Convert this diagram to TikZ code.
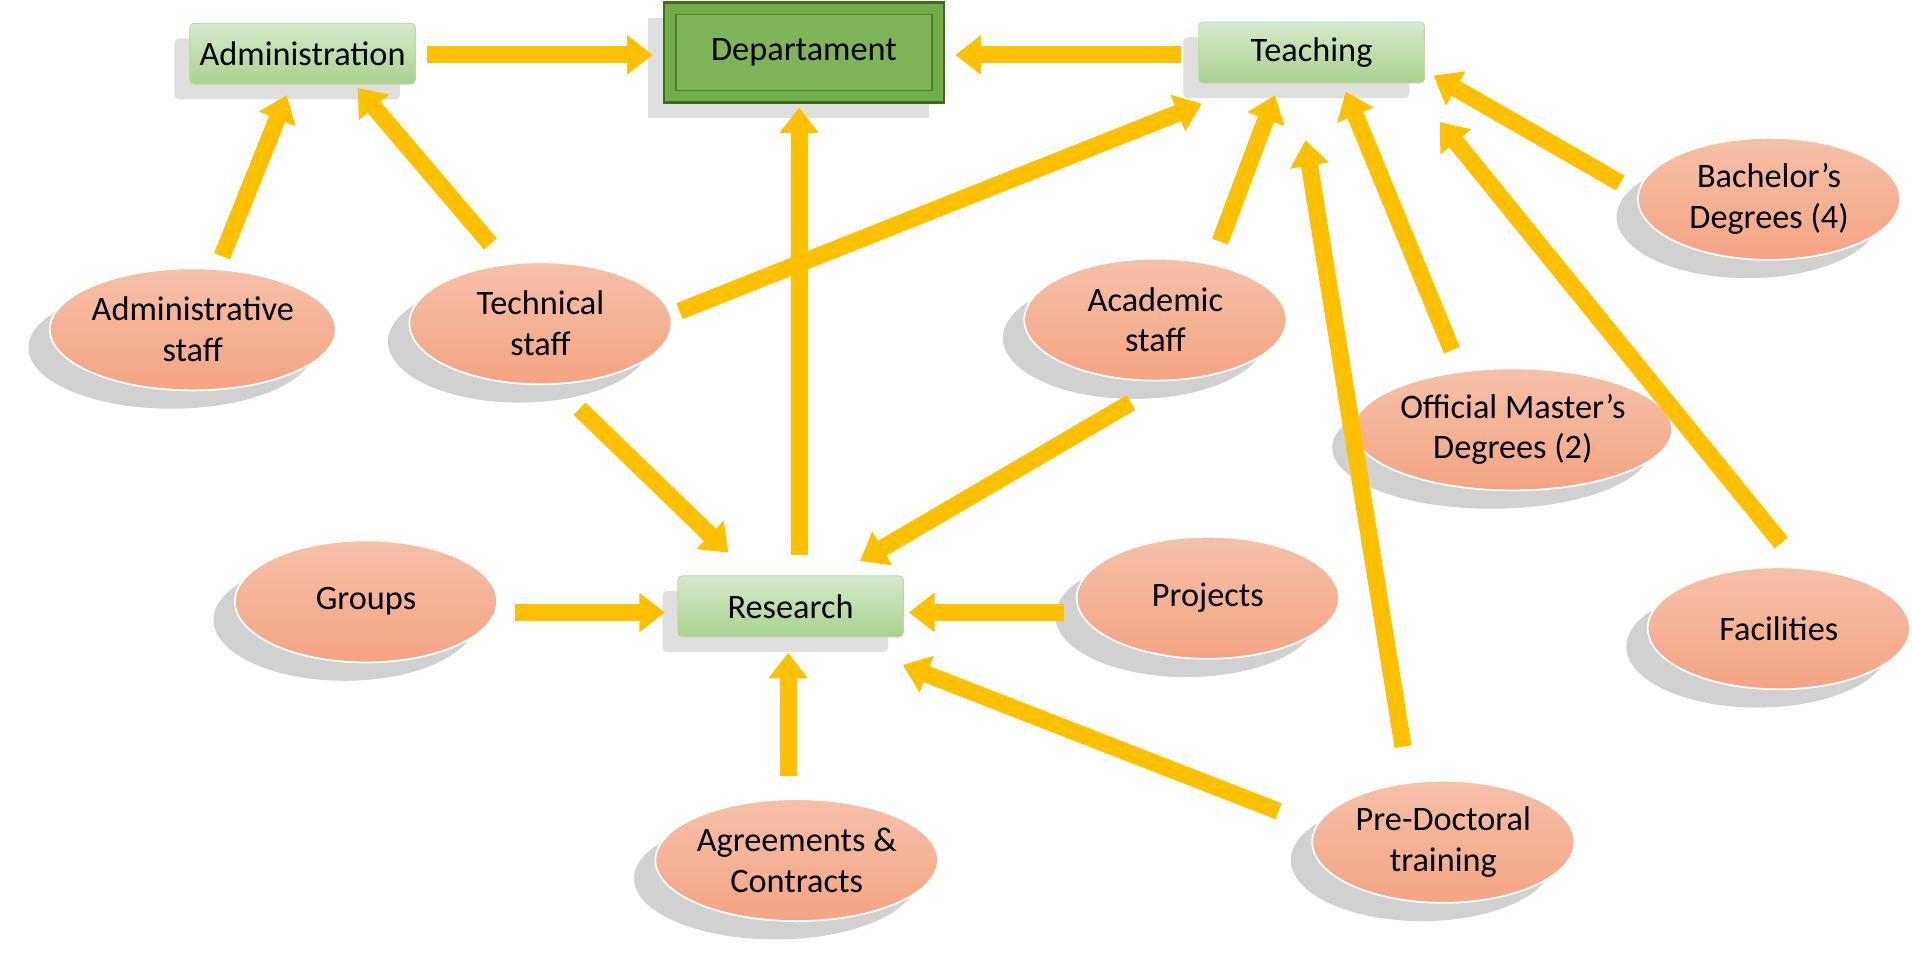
\documentclass[tikz,border=0pt]{standalone}
\usepackage{fontspec}
\setmainfont{Carlito}
\usetikzlibrary{shapes.geometric,arrows.meta,shadows}
\definecolor{arr}{HTML}{FFC000}
\definecolor{elt}{HTML}{F6C0A8}
\definecolor{elb}{HTML}{F4A483}
\definecolor{bxt}{HTML}{D6EACB}
\definecolor{bxb}{HTML}{A9D18E}
\definecolor{dep}{HTML}{70AD47}
\definecolor{depd}{HTML}{3F6B26}
\begin{document}
\begin{tikzpicture}[x=0.02cm,y=-0.02cm,
  font=\fontsize{16}{19}\selectfont,
  ell/.style={ellipse,minimum width=4.3cm,minimum height=2.0cm,top color=elt,bottom color=elb,draw=white,line width=0.8pt,align=center,inner sep=0pt,
    drop shadow={shadow xshift=-0.35cm,shadow yshift=-0.3cm,opacity=0.3,fill=black!60}},
  gbox/.style={rectangle,rounded corners=2pt,minimum width=3.7cm,minimum height=1.0cm,top color=bxt,bottom color=bxb,draw=bxb!80!white,inner sep=2pt,
    drop shadow={shadow xshift=-0.25cm,shadow yshift=-0.25cm,opacity=0.25,fill=black!50}},
  yarr/.style={draw=arr,line width=0.28cm,-{Triangle[length=0.42cm,width=0.62cm]}}]
\useasboundingbox (0,0) rectangle (1568,797);
\node[gbox] (adm) at (248,44) {Administration};
\node[gbox] (tea) at (1075,43) {Teaching};
\node[gbox] (res) at (648,497) {Research};
\node[rectangle,minimum width=4.6cm,minimum height=1.64cm,fill=dep,draw=depd,line width=1pt,
  drop shadow={shadow xshift=-0.25cm,shadow yshift=-0.25cm,opacity=0.25,fill=black!50}] (dept) at (659,43) {};
\node[rectangle,minimum width=4.2cm,minimum height=1.25cm,fill=dep!90!white,draw=depd!70!dep,line width=0.6pt] at (659,43) {Departament};
\node[ell] (ast) at (158,270) {Administrative\\staff};
\node[ell] (tst) at (443,265) {Technical\\staff};
\node[ell] (acs) at (947,262) {Academic\\staff};
\node[ell] (bac) at (1450,163) {Bachelor’s\\Degrees (4)};
\node[ell] (mas) at (1240,352) {Official Master’s\\Degrees (2)};
\node[ell] (fac) at (1458,515) {Facilities};
\node[ell] (grp) at (300,493) {Groups};
\node[ell] (prj) at (990,490) {Projects};
\node[ell] (agr) at (653,705) {Agreements \&\\Contracts};
\node[ell] (pre) at (1183,690) {Pre-Doctoral\\training};
\foreach \a/\b/\c/\d [count=\i] in {350/45/535/45, 968/45/783/45, 655/455/655/88, 182/210/235/78,
  402/200/293/72, 557/255/985/85, 475/335/597/453, 927/330/705/460, 1000/198/1045/78,
  1328/150/1175/62, 1190/287/1103/75, 1460/445/1180/100, 1150/612/1070/115,
  422/502/545/502, 872/502/745/502, 646/636/646/535, 1048/665/740/545}{
  \coordinate (s\i) at (\a,\b); \coordinate (e\i) at (\c,\d);
  \draw[yarr] (s\i) -- (e\i);}
\end{tikzpicture}
\end{document}
